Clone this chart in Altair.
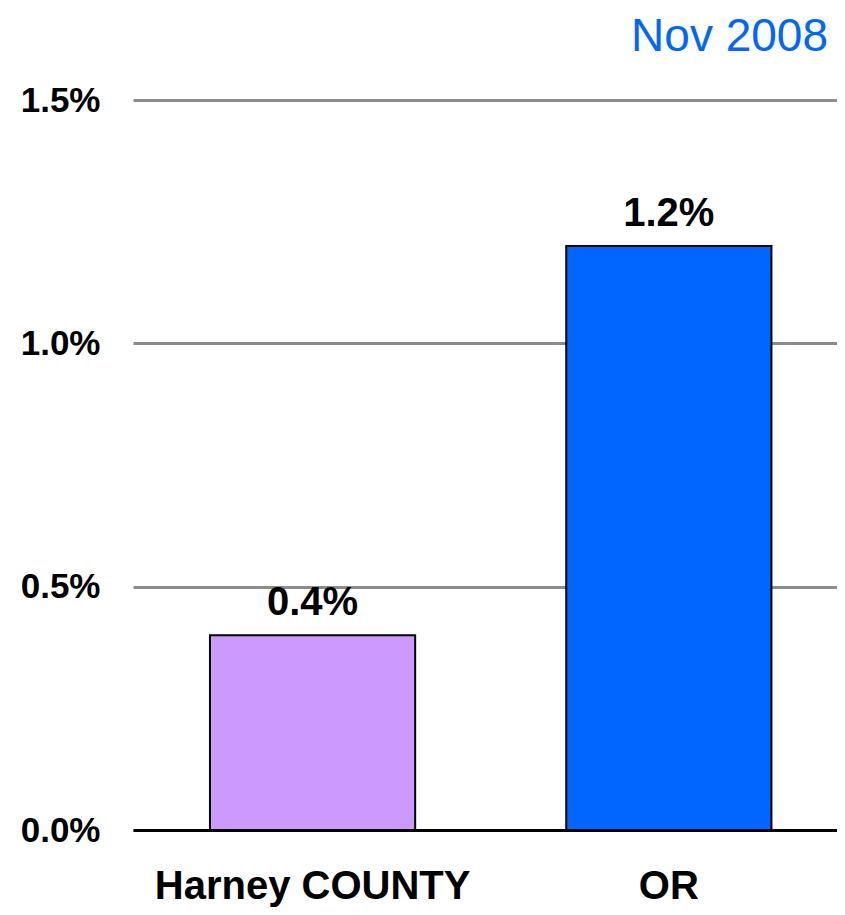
import altair as alt
import pandas as pd

regions = ["Harney COUNTY", "OR"]
rates = [0.004, 0.012]
bar_colors = ["#cc99ff", "#0066ff"]
rate_labels = ["0.4%", "1.2%"]
y_ticks = [0.0, 0.005, 0.010, 0.015]
title_text = "Nov 2008"

df = pd.DataFrame({"region": regions, "rate": rates, "label": rate_labels})

FONT = "Liberation Sans"
W, H = 704, 730

x_enc = alt.X(
    "region:N",
    sort=regions,
    scale=alt.Scale(paddingInner=0.424, paddingOuter=0.2, align=0.54),
    axis=alt.Axis(
        title=None,
        labelAngle=0,
        labelFont=FONT,
        labelFontSize=40,
        labelFontWeight="bold",
        labelColor="#000000",
        labelPadding=36,
        labelLimit=0,
        ticks=False,
        domain=True,
        domainColor="#000000",
        domainWidth=3,
    ),
)
y_enc = alt.Y(
    "rate:Q",
    scale=alt.Scale(domain=[0, 0.015], nice=False),
    axis=alt.Axis(
        title=None,
        values=y_ticks,
        format=".1%",
        labelFont=FONT,
        labelFontSize=35,
        labelFontWeight="bold",
        labelColor="#000000",
        labelPadding=33,
        ticks=False,
        domain=False,
        grid=True,
        gridColor="#8c8c8c",
        gridWidth=3,
    ),
)

bars = alt.Chart(df).mark_bar(stroke="#000000", strokeWidth=2).encode(
    x=x_enc,
    y=y_enc,
    color=alt.Color("region:N", scale=alt.Scale(domain=regions, range=bar_colors), legend=None),
)

labels = alt.Chart(df).mark_text(
    font=FONT, fontSize=40, fontWeight="bold", color="#000000",
    baseline="alphabetic", dy=-20,
).encode(
    x=alt.X("region:N", sort=regions),
    y=alt.Y("rate:Q"),
    text="label:N",
)

title = alt.Chart(pd.DataFrame({"t": [title_text]})).mark_text(
    font=FONT, fontSize=46, color="#0066ff", align="right", baseline="alphabetic",
).encode(
    x=alt.value(695),
    y=alt.value(-49),
    text="t:N",
)

chart = alt.layer(bars, labels, title).properties(
    width=W,
    height=H,
    autosize=alt.AutoSizeParams(type="none"),
    padding={"left": 125, "top": 92, "right": 0, "bottom": 77},
).configure_view(stroke=None)

chart.save("out.html", embed_options={"renderer": "svg", "actions": False})
